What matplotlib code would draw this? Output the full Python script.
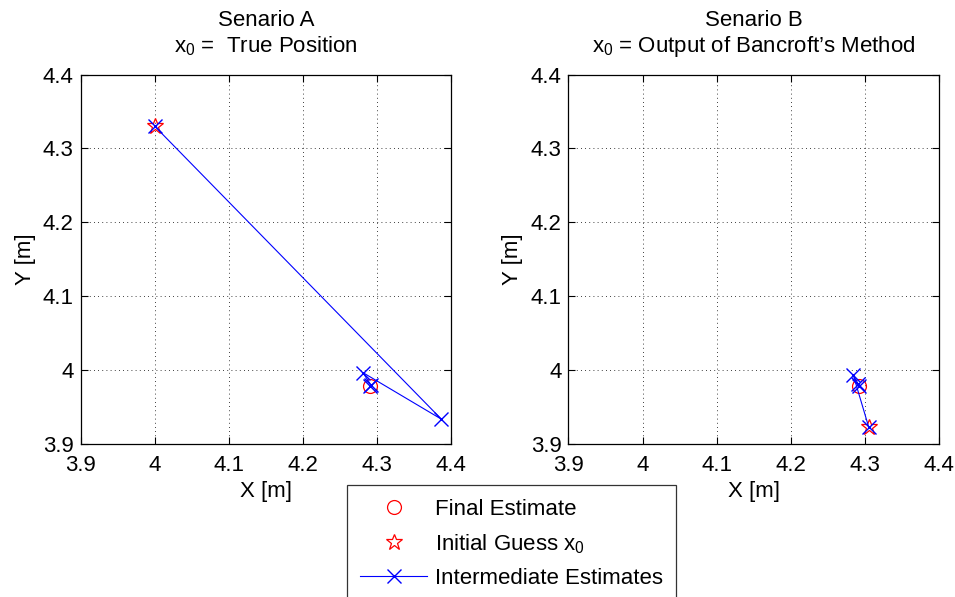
import matplotlib
matplotlib.use("Agg")
import matplotlib.pyplot as plt

plt.rcParams['font.family'] = ['Liberation Sans', 'DejaVu Sans']
plt.rcParams['mathtext.fontset'] = 'custom'
plt.rcParams['mathtext.rm'] = 'Liberation Sans'
plt.rcParams['mathtext.it'] = 'Liberation Sans'

# ---- data ----
ticks = [3.9, 4.0, 4.1, 4.2, 4.3, 4.4]
tick_labels = ['3.9', '4', '4.1', '4.2', '4.3', '4.4']

titles = ['Senario A\n$\\mathregular{x_0}$ =  True Position',
          "Senario B\n$\\mathregular{x_0}$ = Output of Bancroft\u2019s Method"]

# Scenario A
a_final_x = [4.291]
a_final_y = [3.979]
a_init_x = [4.000]
a_init_y = [4.330]
a_iter_x = [4.000, 4.387, 4.281, 4.292, 4.291]
a_iter_y = [4.330, 3.934, 3.997, 3.980, 3.979]

# Scenario B
b_final_x = [4.2915]
b_final_y = [3.979]
b_init_x = [4.305]
b_init_y = [3.923]
b_iter_x = [4.305, 4.284, 4.291, 4.2915]
b_iter_y = [3.923, 3.994, 3.981, 3.979]

labels = ['Final Estimate', 'Initial Guess $\\mathregular{x_0}$', 'Intermediate Estimates']

FS = 16

fig = plt.figure(figsize=(9.55, 5.97), dpi=100)
ax_pos = [[0.0845, 0.2558, 0.3877, 0.6194],
          [0.5951, 0.2558, 0.3884, 0.6194]]

datasets = [
    (a_final_x, a_final_y, a_init_x, a_init_y, a_iter_x, a_iter_y),
    (b_final_x, b_final_y, b_init_x, b_init_y, b_iter_x, b_iter_y),
]

handles = None
for i, (fx, fy, ix, iy, tx, ty) in enumerate(datasets):
    ax = fig.add_axes(ax_pos[i])
    h1, = ax.plot(fx, fy, linestyle='none', marker='o', markersize=10,
                  markerfacecolor='none', markeredgecolor='red', markeredgewidth=0.9)
    h2, = ax.plot(ix, iy, linestyle='none', marker='*', markersize=12,
                  markerfacecolor='none', markeredgecolor='red', markeredgewidth=0.9)
    h3, = ax.plot(tx, ty, color='blue', linewidth=0.8, marker='x', markersize=10,
                  markeredgewidth=1.0)
    handles = [h1, h2, h3]
    ax.set_xlim(3.9, 4.4)
    ax.set_ylim(3.9, 4.4)
    ax.set_xticks(ticks)
    ax.set_xticklabels(tick_labels)
    ax.set_yticks(ticks)
    ax.set_yticklabels(tick_labels)
    ax.tick_params(direction='in', top=True, right=True, length=5, width=0.8,
                   labelsize=FS, pad=5)
    ax.tick_params(axis='x', pad=8)
    ax.grid(True, linestyle=(0, (1, 4)), color='black', linewidth=0.6)
    for s in ax.spines.values():
        s.set_linewidth(0.9)
    ax.set_xlabel('X [m]', fontsize=FS, labelpad=3)
    ax.set_ylabel('Y [m]', fontsize=FS, labelpad=5)
    ax.set_title(titles[i], fontsize=FS, pad=16, linespacing=1.2)

leg = fig.legend(handles, labels, loc='upper left',
                 bbox_to_anchor=(0.3635, 0.187), fontsize=FS,
                 frameon=True, fancybox=False, edgecolor='black',
                 handlelength=3.0, handletextpad=0.35, borderpad=0.6,
                 labelspacing=0.55, borderaxespad=0.0)
leg.get_frame().set_linewidth(0.9)

fig.savefig('out.png', dpi=100)
